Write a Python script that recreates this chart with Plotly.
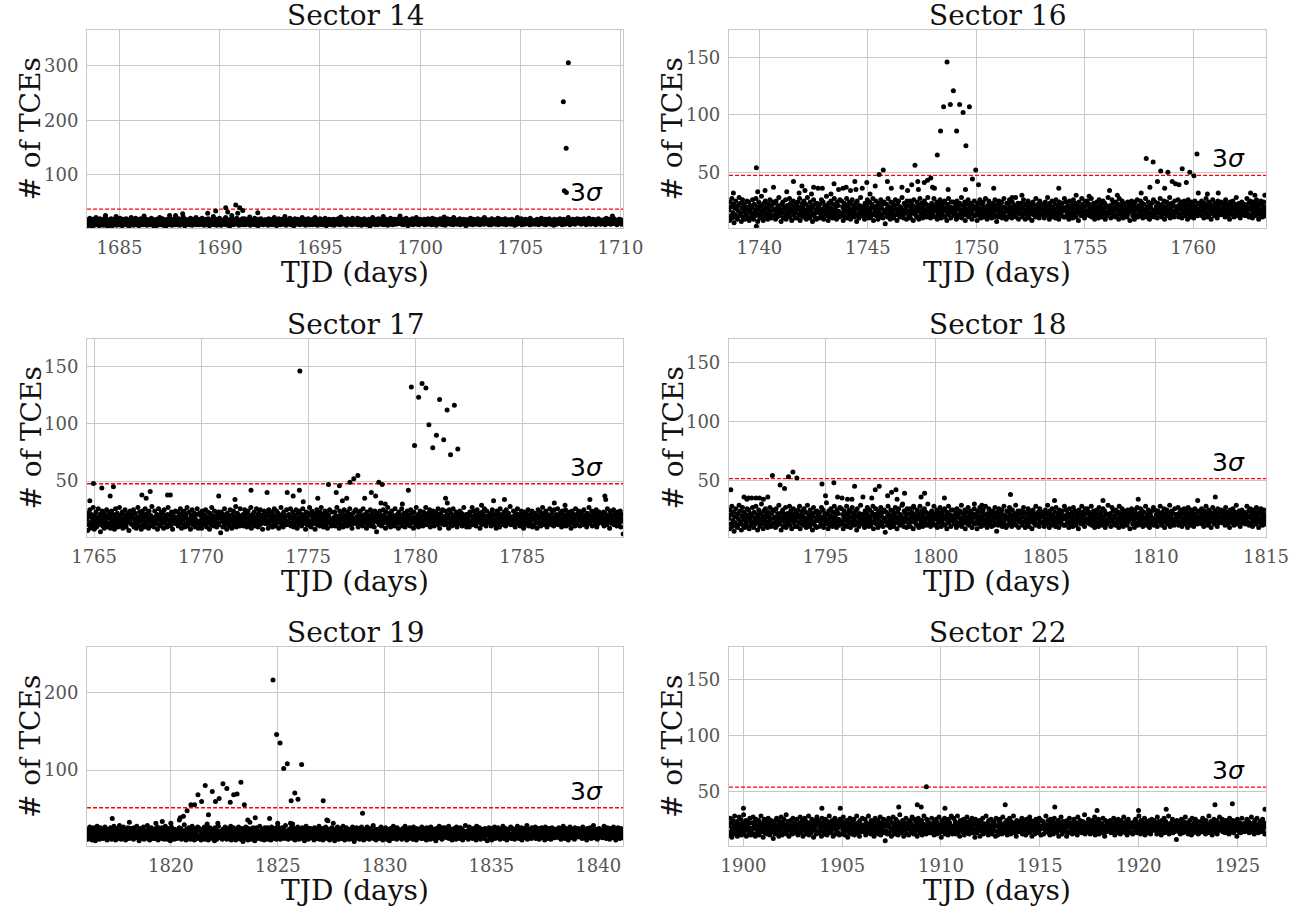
import numpy as np
import plotly.graph_objects as go

# ---------------------------------------------------------------------------
# Data: number of TCEs per time bin for each TESS sector
# ---------------------------------------------------------------------------
SECTORS = ["Sector 14", "Sector 16", "Sector 17", "Sector 18", "Sector 19", "Sector 22"]

# first / last time bin of each sector (TJD, days)
T_START = [1683.38, 1738.60, 1764.67, 1790.62, 1816.08, 1899.27]
T_END = [1710.13, 1763.35, 1789.71, 1815.00, 1841.16, 1926.45]

# 3-sigma detection threshold per sector (# of TCEs)
THRESH_3SIGMA = [37.3, 47.3, 47.7, 51.4, 51.0, 53.8]

X_TICKS = [
    [1685, 1690, 1695, 1700, 1705, 1710],
    [1740, 1745, 1750, 1755, 1760],
    [1765, 1770, 1775, 1780, 1785],
    [1795, 1800, 1805, 1810, 1815],
    [1820, 1825, 1830, 1835, 1840],
    [1900, 1905, 1910, 1915, 1920, 1925],
]
Y_TICKS = [
    [100, 200, 300],
    [50, 100, 150],
    [50, 100, 150],
    [50, 100, 150],
    [100, 200],
    [50, 100, 150],
]
Y_RANGE = [[3, 365], [1.4, 174], [1.3, 173.8], [2, 169.7], [1.3, 259.7], [1.2, 178.8]]

# Per-bin TCE counts (evenly spaced bins across each sector)
S14_COUNTS = """
13 7 18 10 15 21 9 12 17 6 14 19 11 8 16 13 22 10 15 9 18 12 7 20 14 11 16 9 13 19 8 15 12 23 10 17 14 6 18 11
9 16 12 20 14 7 17 11 15 19 10 13 24 8 16 12 18 14 9 21 11 15 17 7 13 19 10 16 12 14 20 9 11 18 15 6 13 17 10 22
15 11 19 8 13 17 12 21 9 16 14 10 18 7 15 12 20 11 14 17 9 13 25 10 16 12 19 8 14 18 11 15 9 17 13 21 10 12 16 7
18 10 14 12 7 19 15 11 17 9 22 13 16 10 12 20 8 15 14 18 11 6 17 13 19 9 15 12 21 10 14 16 8 13 18 11 20 15 9 12
11 17 9 15 20 13 8 16 12 18 14 10 23 11 15 7 19 13 17 10 14 12 18 9 16 21 11 13 8 15 19 12 17 10 14 22 9 16 13 18
14 9 16 19 11 13 21 10 15 8 17 12 14 19 9 16 11 20 13 7 18 15 10 12 17 14 24 9 16 11 13 19 8 15 12 18 10 21 14 11
8 15 12 17 14 10 19 13 22 9 16 11 15 18 12 6 14 17 10 20 13 16 9 15 11 19 12 14 21 10 17 13 8 16 12 18 15 11 20 9
16 12 20 9 14 17 11 15 10 19 13 23 8 16 12 14 18 10 15 11 21 9 17 13 16 12 7 19 14 11 15 20 10 13 17 9 16 12 18 14
10 18 13 15 8 20 12 16 14 11 17 9 19 13 15 22 10 12 18 7 16 14 11 20 13 15 9 17 12 19 10 14 16 11 24 13 8 15 17 12
13 16 10 21 15 9 14 18 12 17 7 13 20 11 16 14 10 19 12 15 18 9 13 16 11 22 14 10 17 12 15 8 19 13 11 16 20 14 9 15
17 11 14 9 19 13 16 10 22 12 15 18 8 14 11 17 13 20 10 16 12 9 18 15 14 11 21 13 7 17 12 16 10 19 14 13 15 9 18 11
12 19 8 16 13 11 18 14 10 20 15 12 17 9 23 13 16 11 14 19 10 15 13 17 8 12 20 16 11 14 18 10 13 15 9 21 12 17 14 16
15 10 17 13 21 9 14 12 19 11 16 8 15 18 13 10 20 14 12 17 9 16 11 15 19 13 6 18 12 14 10 22 15 11 17 13 9 16 19 12
9 14 20 11 16 12 18 10 15 13 24 9 17 12 14 19 11 16 8 15 13 18 10 21 12 14 17 9 16 11 19 13 15 10 18 12 14 20 11 13
18 12 15 10 14 17 9 19 13 16 11 21 14 12 7 17 15 10 18 13 16 12 20 9 14 11 17 15 13 22 10 16 12 18 9 14 19 11 15 13
11 16 13 19 9 15 12 17 14 10 20 13 16 11 18 12 9 15 21 14 10 17 13 19 12 8 16 14 11 18 15 13 20 10 16 12 17 9 14 23
14 8 17 12 16 20 11 15 13 18 10 14 19 12 16 9 22 13 15 11 17 14 10 18 12 16 13 20 9 15 11 17 14 12 19 10 16 13 7 18
16 13 11 18 14 10 21 12 17 15 9 19 13 16 11 14 18 10 15 20 12 13 17 9 16 14 11 19 13 15 10 22 12 17 14 16 11 18 13 9
12 17 15 9 20 13 16 11 14 18 12 10 17 15 13 21 9 16 12 19 14 11 15 18 10 13 17 12 20 14 9 16 15 11 18 13 12 17 10 15
19 11 14 16 12 8 17 13 15 10 22 14 12 18 16 11 13 20 9 15 17 12 14 10 19 16 13 11 15 18 12 14 9 21 13 16 10 17 15 12
13 15 10 17 14 19 12 16 9 13 18 11 15 21 12 14 17 10 16 13 19 9 14 12 18 15 11 20 13 16 10 14 17 12 15 8 19 13 11 16
10 18 14 12 16 13 20 11 15 17 9 14 12 19 15 10 13 18 16 11 14 22 12 15 9 17 13 16 11 19 14 12 18 10 15 13 17 20 12 14
15 12 19 13 10 17 14 11 16 20 12 15 13 9 18 14 16 11 21 13 15 10 17 12 14 19 16 11 13 18 9 15 12 17 14 20 11 16 13 10
17 13 11 15 18 12 16 9 14 21 13 17 11 15 19 12 14 10 16 13 18 15 11 20 12 14 17 13 9 16 15 12 19 11 14 18 13 10 16 15
"""

S16_COUNTS = """
17 8 24 12 20 27 10 15 22 6 19 13 25 11 18 9 21 16 28 12 23 14 7 19 26 11 17 22 9 15 20 13 25 10 18 24 8 16 21 14
11 19 26 14 9 22 17 12 27 15 20 7 18 24 13 10 21 16 29 12 19 8 23 15 17 25 11 20 14 9 22 18 13 26 16 10 21 12 24 17
23 13 18 9 25 16 11 21 14 28 19 12 17 7 22 15 24 10 18 20 13 26 9 16 21 12 19 14 27 11 23 17 8 20 15 25 13 18 10 22
15 21 10 24 18 13 27 8 20 16 12 23 19 11 25 14 17 22 9 15 28 12 20 18 10 24 16 13 21 7 19 26 14 11 22 17 9 23 15 20
19 10 22 16 13 26 11 18 24 9 15 21 17 12 29 14 20 8 23 16 11 19 25 13 18 10 22 15 27 12 17 20 9 24 14 21 16 11 26 13
12 25 14 20 8 17 23 11 19 15 27 10 21 16 13 24 18 9 22 14 26 12 17 20 11 15 23 19 7 25 13 18 10 21 16 28 14 20 12 17
20 15 9 23 17 12 21 26 14 18 10 24 16 11 19 22 13 27 8 20 15 17 25 12 18 21 9 16 23 14 11 26 19 13 22 10 17 24 15 5
14 22 18 11 27 13 20 16 9 24 19 12 15 23 10 21 17 26 13 18 8 22 14 25 16 11 20 19 12 28 15 17 10 23 14 21 18 9 25 16
21 12 16 25 10 19 14 22 18 8 26 15 20 13 17 11 24 16 21 9 19 27 12 15 23 18 10 20 14 25 13 17 22 11 16 28 19 12 21 15
10 18 23 14 20 12 27 17 11 21 16 24 9 19 13 22 15 26 18 10 14 20 23 12 17 25 11 19 16 8 22 14 27 13 20 17 10 24 15 19
24 16 12 19 15 22 9 25 13 18 20 11 23 17 14 28 10 16 21 13 19 24 8 18 15 22 12 26 17 11 20 14 23 16 9 21 18 13 25 12
13 20 17 8 23 15 19 12 26 16 10 22 18 14 24 11 20 15 27 13 17 9 21 16 25 12 19 14 22 10 18 23 15 11 20 26 13 17 7 22
18 11 25 15 21 13 17 24 10 20 14 27 12 19 16 9 23 18 11 22 15 26 13 20 17 10 24 14 19 12 21 16 28 11 18 15 23 9 20 14
16 23 13 20 11 18 26 14 22 9 17 21 15 12 25 19 10 23 16 14 20 8 18 24 13 21 15 11 27 17 19 12 22 16 10 25 14 20 18 13
22 14 19 10 17 24 12 21 15 28 13 18 9 23 16 20 11 25 14 19 17 12 22 10 26 15 18 13 21 9 24 17 14 20 12 23 16 19 11 27
11 19 24 16 13 21 18 9 25 14 20 12 17 22 10 26 15 19 13 23 11 18 21 16 8 24 14 20 17 12 27 15 22 13 19 10 25 16 21 14
25 13 17 22 12 19 15 27 11 20 16 23 14 9 21 18 12 24 15 20 10 26 17 13 22 16 19 11 25 14 18 23 9 21 15 12 20 28 16 18
14 21 10 18 26 15 23 12 19 17 11 24 20 13 16 22 9 27 14 18 21 12 25 16 10 19 23 15 13 20 17 11 24 14 22 18 8 21 16 25
19 12 22 15 9 24 17 20 13 26 11 18 21 16 14 25 12 19 23 10 17 22 15 13 27 18 11 20 16 24 14 9 21 19 12 23 15 17 26 11
12 24 16 20 14 10 23 18 15 21 27 13 17 11 22 19 14 25 9 16 20 13 24 18 12 22 15 28 10 19 17 23 13 21 16 11 25 14 20 18
20 15 26 11 18 22 13 19 24 10 16 21 14 25 17 12 20 23 15 9 26 18 13 21 16 11 24 19 14 22 10 17 25 13 20 15 18 12 23 16
17 22 13 19 25 12 20 16 10 23 18 14 27 15 21 11 19 24 13 17 22 9 20 16 26 14 18 12 23 15 21 17 10 25 19 13 22 16 14 24
13 18 21 14 23 17 11 26 19 15 22 12 20 16 9 24 18 14 21 13 25 17 11 19 22 15 28 12 18 20 14 23 16 10 21 17 24 13 19 15
22 16 12 20 15 27 14 18 23 11 19 25 13 17 21 10 24 16 19 14 22 12 26 18 15 20 9 23 17 13 25 16 21 11 18 24 14 20 12 17
"""

S17_COUNTS = """
16 7 22 12 19 25 9 14 21 11 17 27 13 8 20 15 23 10 18 13 26 12 16 21 6 19 14 24 11 17 22 9 15 20 12 25 14 18 10 23
13 20 9 17 24 14 11 21 16 8 19 26 12 15 22 10 18 14 27 11 20 16 13 23 9 17 21 12 25 15 10 19 14 22 18 7 16 24 13 20
21 12 18 25 10 16 22 14 9 19 13 27 17 11 23 15 20 8 18 24 12 16 21 10 26 14 19 13 22 17 9 24 15 11 20 16 28 12 18 14
10 24 15 19 13 21 8 17 26 12 20 16 11 23 14 18 22 9 25 15 13 19 17 10 21 27 12 16 20 14 11 23 18 8 22 15 19 13 24 16
18 14 23 11 17 20 13 26 15 9 22 16 19 12 24 10 18 21 14 27 11 17 15 23 13 8 20 16 25 12 19 14 22 10 17 21 13 26 15 9
14 22 11 20 16 9 24 13 18 21 15 12 25 17 10 19 23 14 16 8 22 18 12 27 15 20 11 17 24 13 19 16 10 21 14 23 12 18 20 5
23 15 17 10 21 14 26 12 19 16 8 22 13 20 18 11 25 15 17 9 21 14 24 12 19 16 28 10 18 22 13 15 20 11 26 17 14 19 12 21
11 19 25 16 13 22 10 18 24 14 20 12 17 27 9 16 21 13 19 23 15 11 18 26 14 20 10 22 16 12 25 17 13 19 8 21 15 24 18 13
19 13 16 22 9 25 15 20 12 18 23 14 10 21 17 26 13 19 11 24 16 14 22 9 20 15 18 27 12 17 21 10 23 14 19 16 12 25 15 20
15 21 12 18 26 11 19 14 23 16 10 20 17 13 25 15 9 22 18 12 24 14 19 16 11 21 26 13 17 20 15 8 23 18 12 22 16 14 27 11
20 10 24 14 17 21 13 19 8 22 16 25 12 18 15 20 11 23 14 27 17 13 21 10 19 16 24 12 18 22 9 15 20 14 25 13 17 11 23 16
12 18 15 23 11 20 16 27 14 19 13 9 24 17 21 12 16 22 10 18 25 15 13 20 17 11 23 14 19 16 26 12 21 15 9 18 22 13 17 24
17 25 13 19 15 10 22 18 12 24 16 20 14 11 26 17 13 21 15 19 9 23 16 12 20 18 14 25 11 17 22 13 19 16 10 24 15 21 6 18
22 14 19 12 24 16 20 11 17 13 25 15 21 18 9 23 14 16 27 12 19 15 22 10 18 24 13 17 20 14 11 26 16 19 13 21 15 9 23 17
13 20 17 26 11 18 14 22 16 10 21 19 12 24 15 17 20 13 11 25 16 22 14 18 9 23 15 19 12 27 17 14 21 10 18 16 24 13 20 15
18 11 23 15 20 13 27 17 12 19 22 14 16 25 10 21 15 18 13 24 17 11 20 16 23 14 19 12 26 15 21 9 18 22 13 17 25 14 19 12
16 24 12 20 14 21 18 9 25 13 17 22 15 11 19 26 14 20 16 12 23 18 10 21 15 19 13 24 17 14 22 11 20 16 27 13 18 15 21 10
21 13 19 16 10 23 15 20 14 27 12 18 24 16 13 21 11 19 25 15 17 22 14 9 20 18 12 23 16 21 13 26 15 19 11 24 17 14 20 16
14 19 22 11 18 25 13 16 21 12 20 15 9 24 17 13 22 19 10 26 15 18 14 21 16 12 23 17 20 11 25 14 19 15 22 13 18 28 12 17
19 15 12 24 16 20 10 22 17 14 26 13 19 21 15 11 18 24 13 20 16 9 23 18 12 22 15 19 14 25 11 17 21 13 20 16 24 10 18 22
12 22 17 14 21 9 19 25 13 18 16 23 11 20 14 27 15 17 22 12 19 24 16 10 21 14 18 13 26 16 20 12 23 15 17 11 25 19 14 21
17 14 26 12 19 16 22 13 20 10 24 15 18 21 13 16 25 11 19 14 22 17 12 23 15 20 9 18 24 13 17 21 16 11 26 14 19 12 22 18
24 16 11 20 15 23 14 19 12 25 17 13 21 16 10 22 18 14 27 13 20 15 17 24 11 19 16 22 12 18 14 25 10 21 17 13 23 16 19 15
15 20 18 13 23 11 17 22 16 19 12 26 14 20 17 9 24 15 21 13 18 16 25 12 19 22 14 17 11 23 16 20 13 18 24 10 21 15 17 4
"""

S18_COUNTS = """
18 9 25 13 21 28 11 16 23 7 19 14 26 12 20 10 22 17 29 13 24 15 8 20 27 12 18 23 10 16 21 14 26 11 19 25 9 17 22 15
12 20 27 15 10 23 18 13 28 16 21 8 19 25 14 11 22 17 30 13 20 9 24 16 18 26 12 21 15 10 23 19 14 27 17 11 22 13 25 18
24 14 19 10 26 17 12 22 15 29 20 13 18 8 23 16 25 11 19 21 14 27 10 17 22 13 20 15 28 12 24 18 9 21 16 26 14 19 11 23
16 22 11 25 19 14 28 9 21 17 13 24 20 12 26 15 18 23 10 16 29 13 21 19 11 25 17 14 22 8 20 27 15 12 23 18 10 24 16 21
20 11 23 17 14 27 12 19 25 10 16 22 18 13 31 15 21 9 24 17 12 20 26 14 19 11 23 16 28 13 18 21 10 25 15 22 17 12 27 14
13 26 15 21 9 18 24 12 20 16 28 11 22 17 14 25 19 10 23 15 27 13 18 21 12 16 24 20 8 26 14 19 11 22 17 29 15 21 13 18
21 16 10 24 18 13 22 27 15 19 11 25 17 12 20 23 14 28 9 21 16 18 26 13 19 22 10 17 24 15 12 27 20 14 23 11 18 25 16 6
15 23 19 12 28 14 21 17 10 25 20 13 16 24 11 22 18 27 14 19 9 23 15 26 17 12 21 20 13 29 16 18 11 24 15 22 19 10 26 17
22 13 17 26 11 20 15 23 19 9 27 16 21 14 18 12 25 17 22 10 20 28 13 16 24 19 11 21 15 26 14 18 23 12 17 30 20 13 22 16
11 19 24 15 21 13 28 18 12 22 17 25 10 20 14 23 16 27 19 11 15 21 24 13 18 26 12 20 17 9 23 15 28 14 21 18 11 25 16 20
25 17 13 20 16 23 10 26 14 19 21 12 24 18 15 29 11 17 22 14 20 25 9 19 16 23 13 27 18 12 21 15 24 17 10 22 19 14 26 13
14 21 18 9 24 16 20 13 27 17 11 23 19 15 25 12 21 16 28 14 18 10 22 17 26 13 20 15 23 11 19 24 16 12 21 27 14 18 7 23
19 12 26 16 22 14 18 25 11 21 15 28 13 20 17 10 24 19 12 23 16 27 14 21 18 11 25 15 20 13 22 17 29 12 19 16 24 10 21 15
17 24 14 21 12 19 27 15 23 10 18 22 16 13 26 20 11 24 17 15 21 9 19 25 14 22 16 12 28 18 20 13 23 17 11 26 15 21 19 14
23 15 20 11 18 25 13 22 16 29 14 19 10 24 17 21 12 26 15 20 18 13 23 11 27 16 19 14 22 10 25 18 15 21 13 24 17 20 12 28
12 20 25 17 14 22 19 10 26 15 21 13 18 23 11 27 16 20 14 24 12 19 22 17 9 25 15 21 18 13 28 16 23 14 20 11 26 17 22 15
26 14 18 23 13 20 16 28 12 21 17 24 15 10 22 19 13 25 16 21 11 27 18 14 23 17 20 12 26 15 19 24 10 22 16 13 21 29 17 19
15 22 11 19 27 16 24 13 20 18 12 25 21 14 17 23 10 28 15 19 22 13 26 17 11 20 24 16 14 21 18 12 25 15 23 19 9 22 17 26
20 13 23 16 10 25 18 21 14 27 12 19 22 17 15 26 13 20 24 11 18 23 16 14 28 19 12 21 17 25 15 10 22 20 13 24 16 18 27 12
13 25 17 21 15 11 24 19 16 22 28 14 18 12 23 20 15 26 10 17 21 14 25 19 13 23 16 29 11 20 18 24 14 22 17 12 26 15 21 19
21 16 27 12 19 23 14 20 25 11 17 22 15 26 18 13 21 24 16 10 27 19 14 22 17 12 25 20 15 23 11 18 26 14 21 16 19 13 24 17
18 23 14 20 26 13 21 17 11 24 19 15 28 16 22 12 20 25 14 18 23 10 21 17 27 15 19 13 24 16 22 18 11 26 20 14 23 17 15 25
14 19 22 15 24 18 12 27 20 16 23 13 21 17 10 25 19 15 22 14 26 18 12 20 23 16 29 13 19 21 15 24 17 11 22 18 25 14 20 16
23 17 13 21 16 28 15 19 24 12 20 26 14 18 22 11 25 17 20 15 23 13 27 19 16 21 10 24 18 14 26 17 22 12 19 25 15 21 13 18
"""

S19_COUNTS = """
17 10 23 13 20 26 11 15 22 9 19 14 25 12 18 8 21 16 27 13 24 15 10 19 25 12 17 22 11 16 20 14 26 11 18 23 9 16 21 15
12 19 25 15 10 22 17 13 27 16 20 9 18 24 14 11 21 16 28 13 19 10 23 15 17 26 12 20 14 9 22 18 13 25 16 11 21 12 24 17
23 14 18 10 25 16 12 21 15 27 19 13 17 8 22 15 24 11 18 20 13 26 10 16 21 12 19 14 28 11 23 17 9 20 15 25 13 18 11 22
15 21 11 24 18 13 26 9 20 16 12 23 19 11 25 14 17 22 10 15 27 12 20 18 10 24 16 13 21 8 19 26 14 12 22 17 10 23 15 20
19 11 22 16 13 25 12 18 24 10 15 21 17 12 29 14 20 9 23 16 11 19 25 13 18 10 22 15 27 12 17 20 9 24 14 21 16 11 26 13
13 24 14 20 9 17 23 11 19 15 26 10 21 16 13 24 18 9 22 14 25 12 17 20 11 15 23 19 8 25 13 18 10 21 16 27 14 20 12 17
20 15 10 23 17 12 21 26 14 18 10 24 16 11 19 22 13 27 9 20 15 17 25 12 18 21 9 16 23 14 11 26 19 13 22 10 17 24 15 7
14 22 18 11 26 13 20 16 9 24 19 12 15 23 10 21 17 25 13 18 8 22 14 25 16 11 20 19 12 27 15 17 10 23 14 21 18 9 25 16
21 12 16 25 10 19 14 22 18 9 26 15 20 13 17 11 24 16 21 10 19 27 12 15 23 18 10 20 14 25 13 17 22 11 16 28 19 12 21 15
10 18 23 14 20 12 26 17 11 21 16 24 9 19 13 22 15 26 18 10 14 20 23 12 17 25 11 19 16 8 22 14 27 13 20 17 10 24 15 19
24 16 12 19 15 22 9 25 13 18 20 11 23 17 14 27 10 16 21 13 19 24 9 18 15 22 12 26 17 11 20 14 23 16 9 21 18 13 25 12
13 20 17 8 23 15 19 12 26 16 10 22 18 14 24 11 20 15 27 13 17 9 21 16 25 12 19 14 22 10 18 23 15 11 20 26 13 17 7 22
18 11 25 15 21 13 17 24 10 20 14 26 12 19 16 9 23 18 11 22 15 26 13 20 17 10 24 14 19 12 21 16 28 11 18 15 23 9 20 14
16 23 13 20 11 18 26 14 22 9 17 21 15 12 25 19 10 23 16 14 20 8 18 24 13 21 15 11 27 17 19 12 22 16 10 25 14 20 18 13
22 14 19 10 17 24 12 21 15 27 13 18 9 23 16 20 11 25 14 19 17 12 22 10 26 15 18 13 21 9 24 17 14 20 12 23 16 19 11 26
11 19 24 16 13 21 18 9 25 14 20 12 17 22 10 26 15 19 13 23 11 18 21 16 8 24 14 20 17 12 27 15 22 13 19 10 25 16 21 14
25 13 17 22 12 19 15 27 11 20 16 23 14 9 21 18 12 24 15 20 10 26 17 13 22 16 19 11 25 14 18 23 9 21 15 12 20 28 16 18
14 21 10 18 26 15 23 12 19 17 11 24 20 13 16 22 9 27 14 18 21 12 25 16 10 19 23 15 13 20 17 11 24 14 22 18 8 21 16 25
19 12 22 15 9 24 17 20 13 26 11 18 21 16 14 25 12 19 23 10 17 22 15 13 27 18 11 20 16 24 14 9 21 19 12 23 15 17 26 11
12 24 16 20 14 10 23 18 15 21 27 13 17 11 22 19 14 25 9 16 20 13 24 18 12 22 15 28 10 19 17 23 13 21 16 11 25 14 20 18
20 15 26 11 18 22 13 19 24 10 16 21 14 25 17 12 20 23 15 9 26 18 13 21 16 11 24 19 14 22 10 17 25 13 20 15 18 12 23 16
17 22 13 19 25 12 20 16 10 23 18 14 27 15 21 11 19 24 13 17 22 9 20 16 26 14 18 12 23 15 21 17 10 25 19 13 22 16 14 24
13 18 21 14 23 17 11 26 19 15 22 12 20 16 9 24 18 14 21 13 25 17 11 19 22 15 28 12 18 20 14 23 16 10 21 17 24 13 19 15
22 16 12 20 15 27 14 18 23 11 19 25 13 17 21 10 24 16 19 14 22 12 26 18 15 20 9 23 17 13 25 16 21 11 18 24 14 20 12 17
"""

S22_COUNTS = """
19 11 26 14 22 9 17 24 13 20 28 12 18 15 23 10 21 16 27 13 19 25 11 17 22 14 29 12 20 16 24 10 18 23 15 21 13 26 17 11
14 22 17 27 12 19 23 10 25 16 20 13 18 24 11 21 15 28 14 19 22 9 17 25 13 20 16 23 12 18 26 15 21 11 19 24 14 17 22 8
21 15 12 24 18 26 13 20 16 10 23 19 14 27 17 11 22 18 25 13 20 15 29 12 19 23 16 10 21 17 24 14 18 12 26 20 15 22 13 19
16 25 20 11 18 14 22 27 13 19 17 24 10 21 15 26 18 12 23 16 20 14 28 11 19 22 17 13 25 15 21 9 18 24 16 20 12 27 14 22
24 13 18 21 15 10 26 17 22 14 19 12 25 16 20 11 23 18 14 28 15 21 13 19 24 16 10 22 18 26 12 20 15 23 17 13 21 11 25 19
12 20 23 16 27 14 19 11 21 17 24 15 9 22 18 13 26 16 20 12 23 19 15 25 11 18 21 14 28 17 13 22 19 10 24 16 20 14 26 18
20 17 14 25 11 22 16 19 13 28 15 21 18 12 24 20 14 17 23 10 19 26 16 13 21 18 24 12 20 15 27 11 22 17 14 19 25 13 21 6
15 23 19 12 20 26 13 18 24 16 10 22 17 27 14 19 21 12 25 15 18 23 11 20 16 29 13 21 18 14 24 17 10 22 19 15 26 12 20 17
22 11 16 24 18 13 21 27 15 19 12 25 17 14 23 20 10 18 26 16 22 13 19 15 24 11 21 17 28 14 20 16 12 25 18 23 15 19 13 21
13 21 26 17 14 20 11 23 19 16 25 12 22 18 15 27 13 20 17 9 24 19 14 21 16 26 12 18 23 15 20 11 25 17 22 14 19 28 16 12
18 26 14 20 23 12 19 16 28 13 21 17 10 24 19 15 22 14 18 25 11 20 16 23 13 27 18 15 21 12 19 24 17 14 26 20 13 22 16 9
25 16 20 13 17 22 15 24 10 19 23 18 14 26 12 21 17 20 15 28 13 18 22 11 24 16 19 14 25 17 12 21 18 23 15 20 10 26 19 14
11 19 23 17 25 14 21 12 18 27 16 20 13 22 15 19 24 11 17 21 14 26 18 12 23 20 16 15 28 13 19 22 17 10 24 18 14 21 16 23
20 14 18 26 12 23 17 21 15 19 11 25 16 22 13 20 18 27 14 24 16 10 21 19 15 23 12 18 25 17 20 14 22 13 26 16 19 11 24 18
17 23 12 21 19 15 28 14 20 16 24 13 18 11 25 21 15 19 23 12 17 26 14 20 18 13 22 16 24 10 19 21 15 27 17 12 23 18 14 20
23 15 21 10 24 18 13 20 26 14 19 22 16 12 21 17 25 13 19 15 22 18 11 27 16 20 14 24 17 21 13 19 23 15 18 29 12 20 16 22
14 20 25 16 18 12 22 19 15 24 13 21 17 27 11 19 23 16 14 20 25 12 18 22 15 17 21 13 26 19 16 10 24 18 14 22 20 15 23 17
19 24 13 22 16 21 14 26 18 11 20 23 15 19 17 25 13 21 18 12 24 16 22 14 19 27 15 20 13 23 17 11 21 25 16 19 14 22 18 13
21 12 19 17 23 14 25 16 20 13 22 18 28 15 19 12 24 20 16 22 14 18 26 11 21 17 15 23 19 13 20 24 16 12 18 25 15 21 17 24
16 22 15 20 12 27 18 23 14 19 16 21 11 24 18 15 20 26 13 17 23 19 14 21 16 28 12 20 18 15 22 17 25 13 19 14 23 16 21 7
24 17 21 14 19 22 12 18 25 16 20 13 23 17 15 27 19 14 22 18 12 21 16 24 15 19 11 26 20 17 13 22 18 25 14 20 16 23 12 19
13 19 16 23 18 14 26 20 15 22 17 12 24 19 21 14 16 28 13 20 18 23 15 11 22 17 25 19 14 21 16 24 12 18 20 15 27 17 22 16
20 25 14 18 21 16 13 24 19 15 23 17 20 12 26 18 14 22 16 19 24 13 21 17 15 23 19 10 25 16 20 14 22 18 13 21 26 15 19 17
18 14 22 19 16 25 15 20 23 13 17 21 18 27 14 19 16 22 12 24 20 15 18 26 17 13 21 19 16 23 14 20 17 25 15 22 18 12 21 19
"""

# Bins that stand out from the background: (TJD, # of TCEs)
S14_EVENTS = [
    (1684.3, 26), (1687.5, 26), (1687.8, 26), (1688.15, 29), (1689.4, 30), (1689.8, 34),
    (1690.3, 40), (1690.4, 32), (1690.6, 26), (1690.8, 45), (1690.9, 30), (1691.0, 40),
    (1691.15, 35), (1691.9, 31), (1699.0, 25), (1709.6, 25),
    (1707.15, 234), (1707.2, 71), (1707.29, 149), (1707.3, 68), (1707.4, 305),
]
S16_EVENTS = [
    (1738.8, 32), (1739.86, 54), (1739.92, 33), (1740.26, 34), (1740.65, 37), (1741.26, 33),
    (1741.57, 42), (1741.83, 32), (1741.96, 38), (1742.1, 34), (1742.4, 31), (1742.5, 37),
    (1742.7, 36), (1742.9, 36), (1743.3, 31), (1743.44, 40), (1743.65, 35), (1743.85, 36),
    (1744.0, 37), (1744.2, 34), (1744.4, 42), (1744.45, 35), (1744.74, 36), (1744.95, 41),
    (1745.1, 31), (1745.34, 38), (1745.52, 48), (1745.71, 52), (1745.9, 42), (1746.08, 36),
    (1746.57, 37), (1746.83, 34), (1747.02, 39), (1747.17, 56), (1747.3, 42), (1747.33, 35),
    (1747.6, 41), (1747.75, 43), (1747.9, 45), (1747.98, 37), (1748.07, 36), (1748.2, 65),
    (1748.35, 86), (1748.49, 107), (1748.65, 146), (1748.7, 35), (1748.8, 109), (1748.94, 121),
    (1749.09, 86), (1749.23, 109), (1749.39, 102), (1749.5, 35), (1749.52, 73), (1749.68, 107),
    (1749.82, 44), (1749.97, 52), (1750.1, 39), (1750.8, 36), (1751.65, 28), (1752.1, 30),
    (1753.8, 36), (1754.6, 30), (1755.2, 29), (1756.14, 34), (1756.5, 30), (1757.6, 32),
    (1757.83, 62), (1758.0, 37), (1758.15, 59), (1758.35, 42), (1758.5, 51), (1758.68, 36),
    (1758.83, 50), (1759.03, 42), (1759.18, 40), (1759.34, 39), (1759.49, 53), (1759.68, 41),
    (1759.84, 50), (1760.03, 47), (1760.17, 66), (1760.23, 32), (1760.65, 31), (1761.15, 32),
    (1762.64, 32), (1762.84, 30), (1763.3, 30), (1739.86, 3),
]
S17_EVENTS = [
    (1764.8, 33), (1764.97, 48), (1765.36, 44), (1765.75, 37), (1765.9, 45), (1767.23, 38),
    (1767.43, 35), (1767.62, 41), (1768.43, 38), (1768.56, 38), (1770.82, 37), (1771.58, 34),
    (1772.33, 42), (1773.08, 40), (1774.02, 40), (1774.3, 37), (1774.59, 42), (1774.61, 146),
    (1774.77, 32), (1775.45, 35), (1775.95, 47), (1776.31, 40), (1776.46, 46), (1776.6, 33),
    (1776.8, 35), (1776.95, 49), (1777.13, 52), (1777.32, 55), (1777.64, 35), (1777.95, 40),
    (1778.15, 37), (1778.3, 49), (1778.4, 31), (1778.46, 47), (1778.6, 30), (1779.4, 30),
    (1779.68, 42), (1779.82, 132), (1779.97, 81), (1780.16, 123), (1780.32, 135), (1780.5, 131),
    (1780.64, 99), (1780.82, 79), (1780.99, 90), (1781.14, 121), (1781.33, 86), (1781.42, 35),
    (1781.49, 112), (1781.5, 31), (1781.65, 73), (1781.83, 116), (1781.99, 78), (1783.1, 29),
    (1783.66, 33), (1784.17, 34), (1786.5, 31), (1787.0, 29), (1788.16, 34), (1788.86, 37),
    (1788.9, 34),
]
S18_EVENTS = [
    (1790.7, 42), (1791.3, 36), (1791.43, 34), (1791.5, 35), (1791.65, 35), (1791.84, 35),
    (1792.0, 35), (1792.18, 34), (1792.38, 36), (1792.59, 54), (1792.94, 46), (1793.14, 43),
    (1793.32, 53), (1793.52, 57), (1793.7, 52), (1794.84, 47), (1795.0, 37), (1795.38, 48),
    (1795.55, 36), (1795.75, 35), (1796.0, 34), (1796.2, 34), (1796.32, 45), (1796.7, 36),
    (1797.1, 35), (1797.26, 42), (1797.44, 45), (1797.82, 37), (1798.0, 40), (1798.2, 42),
    (1798.25, 34), (1798.5, 30), (1798.59, 39), (1799.0, 28), (1799.34, 36), (1799.5, 39),
    (1800.4, 35), (1801.76, 30), (1802.1, 29), (1803.4, 38), (1805.4, 33), (1807.6, 33),
    (1809.2, 34), (1811.9, 33), (1812.7, 36),
]
S19_EVENTS = [
    (1817.26, 37), (1818.06, 32), (1819.3, 31), (1819.6, 33), (1820.0, 31), (1820.4, 35),
    (1820.44, 38), (1820.59, 40), (1820.76, 47), (1820.94, 55), (1821.11, 55), (1821.27, 68),
    (1821.44, 59), (1821.61, 80), (1821.7, 30), (1821.76, 42), (1821.94, 72), (1822.09, 59),
    (1822.2, 31), (1822.26, 63), (1822.44, 82), (1822.62, 76), (1822.78, 58), (1822.94, 68),
    (1823.1, 69), (1823.28, 84), (1823.44, 55), (1823.6, 35), (1823.7, 32), (1823.95, 38),
    (1824.62, 37), (1824.78, 217), (1824.95, 146), (1825.0, 31), (1825.11, 135), (1825.28, 102),
    (1825.45, 108), (1825.6, 31), (1825.63, 60), (1825.7, 30), (1825.8, 70), (1825.95, 62),
    (1826.12, 107), (1827.13, 60), (1827.3, 35), (1827.35, 34), (1827.6, 31), (1828.97, 44),
]
S22_EVENTS = [
    (1900.0, 35), (1903.97, 35), (1904.9, 35), (1907.86, 36), (1908.8, 38), (1909.0, 36),
    (1909.26, 54), (1910.2, 35), (1913.25, 38), (1915.76, 36), (1917.9, 33), (1920.0, 33),
    (1921.4, 34), (1923.87, 38), (1924.75, 39), (1926.4, 34),
]

COUNTS = [S14_COUNTS, S16_COUNTS, S17_COUNTS, S18_COUNTS, S19_COUNTS, S22_COUNTS]
EVENTS = [S14_EVENTS, S16_EVENTS, S17_EVENTS, S18_EVENTS, S19_EVENTS, S22_EVENTS]

# ---------------------------------------------------------------------------
# Styling / layout
# ---------------------------------------------------------------------------
SERIF = "DejaVu Serif"
SANS = "DejaVu Sans"
GRID = "#c8c8c8"
SPINE = "#c8c8c8"
TICK_COLOR = "#555555"
TEXT_COLOR = "#111111"
DOT = 5

X_DOM = [[0.0662, 0.4738], [0.5544, 0.9627]]
Y_DOM = [[0.7492, 0.9670], [0.4092, 0.6271], [0.0693, 0.2882]]

fig = go.Figure()
annotations = []
axes = {}

for i, name in enumerate(SECTORS):
    row, col = divmod(i, 2)
    sfx = "" if i == 0 else str(i + 1)
    xa, ya = "x" + sfx, "y" + sfx

    # 3-sigma threshold across the whole sector
    fig.add_trace(go.Scatter(
        x=[T_START[i], T_END[i]], y=[THRESH_3SIGMA[i], THRESH_3SIGMA[i]],
        mode="lines", xaxis=xa, yaxis=ya,
        line=dict(color="red", width=1.3, dash="4px,2px"),
        showlegend=False, hoverinfo="skip",
    ))

    counts = [int(v) for v in COUNTS[i].split()]
    t = np.linspace(T_START[i], T_END[i], len(counts))
    fig.add_trace(go.Scatter(
        x=t, y=counts, mode="markers", xaxis=xa, yaxis=ya,
        marker=dict(color="black", size=DOT, line=dict(width=0)),
        showlegend=False, hoverinfo="skip",
    ))
    ev_t, ev_n = zip(*EVENTS[i])
    fig.add_trace(go.Scatter(
        x=list(ev_t), y=list(ev_n), mode="markers", xaxis=xa, yaxis=ya,
        marker=dict(color="black", size=DOT, line=dict(width=0)),
        showlegend=False, hoverinfo="skip",
    ))

    common = dict(
        showgrid=True, gridcolor=GRID, gridwidth=1, zeroline=False,
        showline=True, mirror=True, linecolor=SPINE, linewidth=1.2,
        ticks="outside", tickcolor="rgba(0,0,0,0)", automargin=False,
        tickfont=dict(family=SERIF, size=18, color=TICK_COLOR),
    )
    axes["xaxis" + sfx] = dict(
        domain=X_DOM[col], anchor=ya, range=[T_START[i], T_END[i]],
        tickvals=X_TICKS[i], ticklen=3, **common,
    )
    axes["yaxis" + sfx] = dict(
        domain=Y_DOM[row], anchor=xa, range=Y_RANGE[i],
        tickvals=Y_TICKS[i], ticklen=4, **common,
    )

    annotations.append(dict(
        text="3<i>σ</i>", xref=xa + " domain", x=1, xshift=-37, xanchor="center",
        yref=ya, y=THRESH_3SIGMA[i], yanchor="bottom", yshift=0,
        showarrow=False, font=dict(family=SANS, size=25, color="black"),
    ))

    xmid = (X_DOM[col][0] + X_DOM[col][1]) / 2
    ymid = (Y_DOM[row][0] + Y_DOM[row][1]) / 2
    annotations.append(dict(
        text=name, xref="paper", yref="paper", x=xmid, y=Y_DOM[row][1],
        xanchor="center", yanchor="bottom", yshift=-3, borderpad=0, showarrow=False,
        font=dict(family=SERIF, size=28, color=TEXT_COLOR),
    ))
    annotations.append(dict(
        text="TJD (days)", xref="paper", yref="paper", x=xmid, y=Y_DOM[row][0],
        xanchor="center", yanchor="top", yshift=-27, borderpad=0, showarrow=False,
        font=dict(family=SERIF, size=28, color=TEXT_COLOR),
    ))
    annotations.append(dict(
        text="# of TCEs", xref="paper", yref="paper", x=X_DOM[col][0], y=ymid,
        xanchor="right", yanchor="middle", xshift=-39, borderpad=0, textangle=-90,
        showarrow=False, font=dict(family=SERIF, size=28, color=TEXT_COLOR),
    ))

fig.update_layout(
    width=1315, height=909,
    margin=dict(l=0, r=0, t=0, b=0, autoexpand=False),
    paper_bgcolor="white", plot_bgcolor="white",
    annotations=annotations, **axes,
)

fig.write_html("out.html")
